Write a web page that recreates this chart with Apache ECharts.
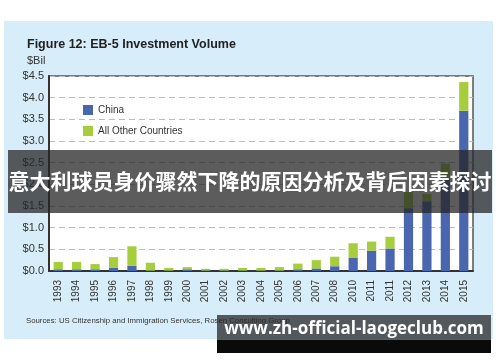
<!DOCTYPE html>
<html>
<head>
<meta charset="utf-8">
<script src="https://cdn.jsdelivr.net/npm/echarts@6/dist/echarts.min.js"></script>
<style>html,body{margin:0;padding:0;background:#fff}#c{width:500px;height:362px}</style>
</head>
<body>
<div id="c"></div>
<script>
var categories = ['1993','1994','1995','1996','1997','1998','1999','2000','2001','2002','2003','2004','2005','2006','2007','2008','2010','2011','2011','2012','2013','2014','2015'];
var chinaValues = [0.04,0.04,0.04,0.07,0.12,0.01,0.01,0.04,0.01,0.01,0.01,0.01,0.01,0.04,0.06,0.11,0.30,0.47,0.52,1.45,1.61,2.12,3.70];
var otherValues = [0.17,0.17,0.12,0.25,0.45,0.18,0.06,0.05,0.04,0.04,0.06,0.06,0.08,0.13,0.19,0.22,0.34,0.21,0.27,0.37,0.17,0.36,0.66];
var yTicks = [0,0.5,1,1.5,2,2.5,3,3.5,4,4.5];
var titleText = 'Figure 12: EB-5 Investment Volume';
var unitText = '$Bil';
var sourceText = 'Sources: US Citizenship and Immigration Services, Rosen Consulting Group';
var bannerText = '意大利球员身价骤然下降的原因分析及背后因素探讨';
var watermarkText = 'www.zh-official-laogeclub.com';

var chart = echarts.init(document.getElementById('c'), null, {renderer: 'canvas'});
var font = '"Liberation Sans", Arial, sans-serif';
chart.setOption({
  backgroundColor: '#ffffff',
  animation: false,
  textStyle: {fontFamily: font},
  title: [
    {text: titleText, left: 22, top: 33, textStyle: {fontSize: 12.5, fontWeight: 'bold', color: '#222', fontFamily: font}},
    {text: unitText, left: 22, top: 50, textStyle: {fontSize: 11, fontWeight: 'normal', color: '#333', fontFamily: font}}
  ],
  legend: {
    orient: 'vertical', left: 78, top: 100, itemWidth: 10, itemHeight: 10, itemGap: 11,
    textStyle: {fontSize: 10, color: '#333', fontFamily: font},
    data: [{name: 'China', icon: 'rect'}, {name: 'All Other Countries', icon: 'rect'}]
  },
  grid: {left: 49, right: 27, top: 76, bottom: 91, show: true, backgroundColor: '#fff', borderColor: '#555', borderWidth: 1.5},
  xAxis: {
    type: 'category', data: categories,
    axisLine: {lineStyle: {color: '#333', width: 2}},
    axisTick: {show: false},
    axisLabel: {rotate: 90, fontSize: 10, color: '#333', margin: 9, interval: 0}
  },
  yAxis: {
    type: 'value', min: 0, max: 4.5, interval: 0.5,
    axisLine: {show: true, lineStyle: {color: '#333', width: 2}},
    axisTick: {show: false},
    axisLabel: {fontSize: 11, color: '#333', margin: 5, formatter: function (v) { return '$' + v.toFixed(1); }},
    splitLine: {show: true, lineStyle: {color: '#bdbdbd', type: [6, 4], width: 1}}
  },
  series: [
    {name: 'China', type: 'bar', stack: 's', data: chinaValues, barWidth: '50%', itemStyle: {color: '#4a66ae'}},
    {name: 'All Other Countries', type: 'bar', stack: 's', data: otherValues, barWidth: '50%', itemStyle: {color: '#a5cd3c'}}
  ],
  graphic: [
    {type: 'rect', z: -10, silent: true, shape: {x: 4, y: 21, width: 489, height: 318}, style: {fill: '#d7edf9'}},
    {type: 'text', z: 5, left: 26, top: 317, style: {text: sourceText, fontSize: 7.8, fill: '#333', fontFamily: font}},
    {type: 'rect', z: 100, shape: {x: 8, y: 150, width: 484, height: 63}, style: {fill: 'rgba(38,38,38,0.75)'}},
    {type: 'text', z: 101, x: 250, y: 181, style: {text: bannerText, fontSize: 21, fontWeight: 'bold', fill: '#fff', fontFamily: '"Noto Sans CJK SC", sans-serif', textAlign: 'center', textVerticalAlign: 'middle'}},
    {type: 'rect', z: 100, shape: {x: 217, y: 315, width: 274, height: 25}, style: {fill: 'rgba(38,38,38,0.75)'}},
    {type: 'rect', z: 100, shape: {x: 217, y: 340, width: 274, height: 13}, style: {fill: '#0a0a0a'}},
    {type: 'text', z: 101, x: 354, y: 329, style: {text: watermarkText, fontSize: 17, fontWeight: 'bold', fill: '#fff', fontFamily: '"Open Sans", sans-serif', textAlign: 'center', textVerticalAlign: 'middle'}}
  ]
});
</script>
</body>
</html>
